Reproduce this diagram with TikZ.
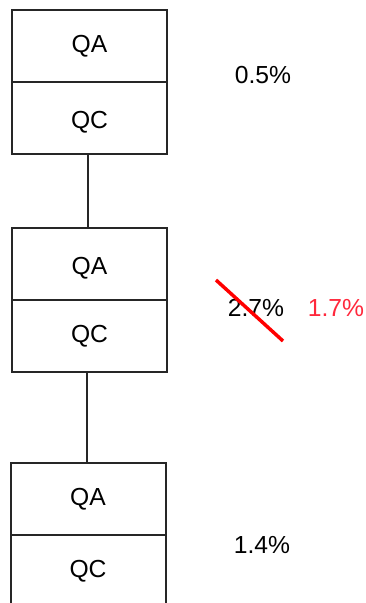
\documentclass[tikz,border=0pt]{standalone}
\usepackage{fontspec}
\setmainfont{Liberation Sans}
\definecolor{pctred}{RGB}{255,40,60}
\begin{document}
\begin{tikzpicture}[x=0.75pt,y=-0.75pt,
  cell/.style={draw=black!85,line width=1.5pt,rectangle,minimum width=116.25pt,minimum height=54pt,inner sep=0pt,font=\fontsize{18.5pt}{20pt}\selectfont},
  lowtext/.style={text height=19pt,text depth=3pt},
  pct/.style={font=\fontsize{18.5pt}{20pt}\selectfont,inner sep=0pt},
  link/.style={draw=black!85,line width=1.4pt}]
\useasboundingbox (0,0) rectangle (366,603);
\begin{scope}
\clip (0,0) rectangle (366,603);
\node[cell] (a1) at (89.5,46) {QA};
\node[cell,lowtext] (c1) at (89.5,118) {QC};
\node[cell,lowtext] (a2) at (89.5,264) {QA};
\node[cell] (c2) at (89.5,336) {QC};
\node[cell] (a3) at (88,499) {QA};
\node[cell] (c3) at (88,571) {QC};
\draw[link] ([xshift=-1pt]c1.south) -- ([xshift=-1pt]c1.south |- a2.north);
\draw[link] ([xshift=-2pt]c2.south) -- ([xshift=-2pt]c2.south |- a3.north);
\end{scope}
\node[pct] (p1) at (263,75) {0.5\%};
\node[pct] (p2) at (256,308) {2.7\%};
\node[pct,text=pctred] (p3) at (336,308) {1.7\%};
\node[pct] (p4) at (262,545) {1.4\%};
\coordinate (s1) at (216,280);
\coordinate (s2) at (283,341);
\draw[red,line width=2.6pt] (s1) -- (s2);
\end{tikzpicture}
\end{document}
